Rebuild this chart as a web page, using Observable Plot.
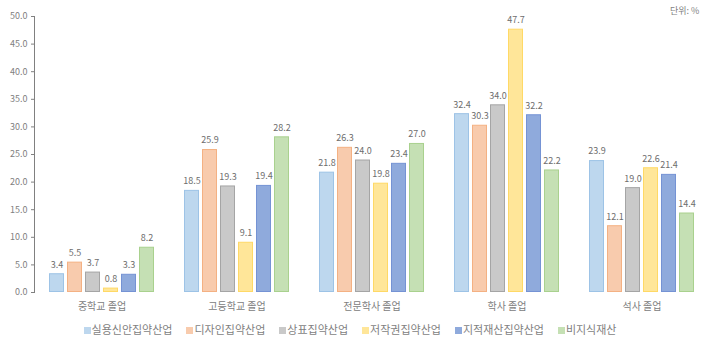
<!DOCTYPE html>
<html>
<head>
<meta charset="utf-8">
<script src="https://cdn.jsdelivr.net/npm/d3@7"></script>
<script src="https://cdn.jsdelivr.net/npm/@observablehq/plot@0.6"></script>
<style>
  html, body { margin: 0; padding: 0; background: #fff; }
  body { width: 720px; height: 342px; position: relative; overflow: hidden; font-family: "Noto Sans CJK KR", sans-serif; }
  #unit { position: absolute; left: 670px; top: 4px; font-size: 9px; color: #7f7f7f; }
  #legend { position: absolute; left: 0; top: 321px; width: 700px; display: flex; justify-content: center; gap: 14px; font-size: 11px; color: #7f7f7f; }
  #legend span.sw { display: inline-block; width: 7px; height: 7px; margin-right: 1px; vertical-align: 0px; }
</style>
</head>
<body>
<div id="chart"></div>
<div id="unit">단위: %</div>
<div id="legend"></div>
<script>
const groups = ["중학교 졸업", "고등학교 졸업", "전문학사 졸업", "학사 졸업", "석사 졸업"];
const series = ["실용신안집약산업", "디자인집약산업", "상표집약산업", "저작권집약산업", "지적재산집약산업", "비지식재산"];
const values = [
  [3.4, 5.5, 3.7, 0.8, 3.3, 8.2],
  [18.5, 25.9, 19.3, 9.1, 19.4, 28.2],
  [21.8, 26.3, 24.0, 19.8, 23.4, 27.0],
  [32.4, 30.3, 34.0, 47.7, 32.2, 22.2],
  [23.9, 12.1, 19.0, 22.6, 21.4, 14.4]
];
const yTicks = [0, 5, 10, 15, 20, 25, 30, 35, 40, 45, 50];
const fills = ["#bdd7ee", "#f8cbad", "#c9c9c9", "#ffe699", "#8faadc", "#c5e0b4"];
const strokes = ["#9dc3e6", "#f4b183", "#a5a5a5", "#ffd966", "#7593d4", "#a9d18e"];

const data = [];
groups.forEach((g, i) => series.forEach((s, j) => data.push({group: g, series: s, value: values[i][j]})));

const chart = Plot.plot({
  width: 720,
  height: 318,
  marginLeft: 34,
  marginRight: 11,
  marginTop: 16,
  marginBottom: 26,
  style: {fontFamily: "'Noto Sans CJK KR', sans-serif", fontSize: "9px", color: "#808080", background: "#fff"},
  fx: {domain: groups, padding: 0, label: null, tickSize: 0, tickPadding: 10, line: true, axis: "bottom"},
  x: {domain: series, paddingInner: 0.17, paddingOuter: 0.83, axis: null},
  y: {domain: [0, 50], ticks: yTicks, tickFormat: d3.format(".1f"), tickSize: 3, tickPadding: 4, label: null, line: true},
  color: {type: "identity"},
  marks: [
    Plot.barY(data, {
      fx: "group", x: "series", y: "value",
      fill: d => fills[series.indexOf(d.series)],
      stroke: d => strokes[series.indexOf(d.series)],
      strokeWidth: 1, inset: 0.5
    }),
    Plot.text(data, {
      fx: "group", x: "series", y: "value",
      text: d => d3.format(".1f")(d.value),
      dy: -9, fill: "#6d6d6d", fontSize: 9
    })
  ]
});
document.getElementById("chart").appendChild(chart);

// lighten axis lines
chart.querySelectorAll("[aria-label*='line'] path, [aria-label*='line'] line, [aria-label*='line']").forEach(p => {
  if (p.tagName === "path" || p.tagName === "line" || p.tagName === "g") p.setAttribute("stroke", "#d0d0d0");
});
// larger group labels
chart.querySelectorAll("[aria-label*='fx-axis'] text").forEach(t => t.setAttribute("font-size", "10"));

const legend = document.getElementById("legend");
series.forEach((s, j) => {
  const item = document.createElement("div");
  const sw = document.createElement("span");
  sw.className = "sw";
  sw.style.backgroundColor = fills[j];
  item.appendChild(sw);
  item.appendChild(document.createTextNode(s));
  legend.appendChild(item);
});
</script>
</body>
</html>
